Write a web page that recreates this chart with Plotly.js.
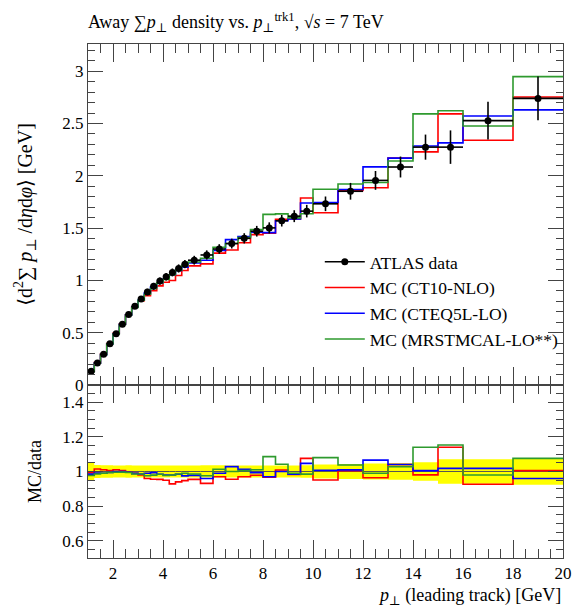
<!DOCTYPE html>
<html><head><meta charset="utf-8">
<script src="https://cdn.plot.ly/plotly-3.0.1.min.js"></script>
<style>html,body{margin:0;padding:0;background:#fff;}</style>
</head><body><div id="plot" style="width:586px;height:612px;"></div>
<script>
// ---- data ----
const binEdges = [1,1.25,1.5,1.75,2,2.25,2.5,2.75,3,3.25,3.5,3.75,4,4.25,4.5,4.75,5,
  5.5,6,6.5,7,7.5,8,8.5,9,9.5,10,11,12,13,14,15,16,18,20];
const dataValues = [0.131,0.211,0.293,0.394,0.490,0.580,0.673,0.753,0.822,0.889,0.943,0.993,1.034,1.076,1.114,1.155,
  1.193,1.243,1.300,1.352,1.402,1.470,1.502,1.570,1.614,1.662,
  1.732,1.852,1.956,2.084,2.274,2.274,2.527,2.740];
const dataErrors = [0.0065,0.008,0.0105,0.014,0.017,0.020,0.024,0.026,0.029,0.031,0.033,0.035,0.036,0.038,0.039,0.040,
  0.042,0.044,0.046,0.047,0.049,0.051,0.053,0.055,0.057,0.060,
  0.070,0.080,0.090,0.100,0.120,0.160,0.180,0.210];
const mcCT10 = [0.130,0.214,0.296,0.396,0.495,0.583,0.671,0.745,0.806,0.853,0.901,0.948,0.982,0.999,1.047,1.094,
  1.139,1.158,1.261,1.291,1.360,1.438,1.452,1.583,1.587,1.788,
  1.647,1.861,1.886,2.169,2.229,2.592,2.340,2.754];
const mcCTEQ5L = [0.129,0.209,0.290,0.392,0.490,0.580,0.670,0.745,0.810,0.880,0.937,0.977,1.013,1.054,1.096,1.126,
  1.166,1.193,1.287,1.390,1.420,1.460,1.457,1.570,1.588,1.740,
  1.744,1.869,2.085,2.169,2.285,2.315,2.572,2.630];
const mcMRST = [0.128,0.208,0.290,0.392,0.488,0.578,0.669,0.742,0.810,0.867,0.923,0.977,1.010,1.054,1.098,1.143,
  1.176,1.212,1.317,1.352,1.409,1.485,1.631,1.636,1.598,1.637,
  1.871,1.922,1.936,2.142,2.592,2.622,2.476,2.948];
const seriesNames = ['ATLAS data','MC (CT10-NLO)','MC (CTEQ5L-LO)','MC (MRSTMCAL-LO**)'];
const seriesColors = ['#000000','#ff0000','#0000ff','#2e9a2e'];

// ---- helpers ----
const nb = dataValues.length;
const centers = [], halfW = [];
for (let i = 0; i < nb; i++) { centers.push((binEdges[i]+binEdges[i+1])/2); halfW.push((binEdges[i+1]-binEdges[i])/2); }
const step = v => v.concat([v[v.length-1]]);
const ratio = v => v.map((y,i) => y/dataValues[i]);
// data points interleaved with gaps so the legend shows line+marker without connecting points
const gx=[], gy=[], gex=[], gey=[];
for (let i = 0; i < nb; i++) {
  gx.push(centers[i], null); gy.push(dataValues[i], null);
  gex.push(halfW[i], null); gey.push(dataErrors[i], null);
}
const FONT = 'Liberation Serif, DejaVu Serif, serif';
const mcSets = [mcCT10, mcCTEQ5L, mcMRST];

const traces = [];
mcSets.forEach((v, k) => traces.push({
  x: binEdges, y: step(v), type:'scatter', mode:'lines', line:{shape:'hv', color:seriesColors[k+1], width:1.6},
  name: seriesNames[k+1], legendrank: k+2, xaxis:'x', yaxis:'y', hoverinfo:'skip'
}));
traces.push({
  x: gx, y: gy, type:'scatter', mode:'lines+markers', connectgaps:false,
  line:{color:'#000', width:1.6}, marker:{color:'#000', size:7},
  error_y:{type:'data', array:gey, visible:true, color:'#000', thickness:1.6, width:0},
  error_x:{type:'data', array:gex, visible:true, color:'#000', thickness:1.6, width:0},
  name: seriesNames[0], legendrank: 1, xaxis:'x', yaxis:'y', hoverinfo:'skip'
});
const relErr = dataErrors.map((e,i) => e/dataValues[i]);
traces.push({x: binEdges, y: step(relErr.map(r => 1-r)), type:'scatter', mode:'lines',
  line:{shape:'hv', width:0, color:'#ffff00'}, showlegend:false, xaxis:'x2', yaxis:'y2', hoverinfo:'skip'});
traces.push({x: binEdges, y: step(relErr.map(r => 1+r)), type:'scatter', mode:'lines', fill:'tonexty',
  fillcolor:'#ffff00', line:{shape:'hv', width:0, color:'#ffff00'}, showlegend:false, xaxis:'x2', yaxis:'y2', hoverinfo:'skip'});
traces.push({x: binEdges, y: step(ratio(dataValues)), type:'scatter', mode:'lines',
  line:{shape:'hv', width:1, color:'#555'}, showlegend:false, xaxis:'x2', yaxis:'y2', hoverinfo:'skip'});
mcSets.forEach((v, k) => traces.push({
  x: binEdges, y: step(ratio(v)), type:'scatter', mode:'lines', line:{shape:'hv', color:seriesColors[k+1], width:1.6},
  showlegend:false, xaxis:'x2', yaxis:'y2', hoverinfo:'skip'
}));

const frame = {showline:true, linecolor:'#444', linewidth:1, mirror:'allticks', ticks:'inside', tickcolor:'#444',
  showgrid:false, zeroline:false, tickfont:{family:FONT, size:17, color:'#000'}};
const split = 0.3366;
const layout = {
  width:586, height:612, margin:{l:88, r:23, t:44, b:54},
  paper_bgcolor:'#fff', plot_bgcolor:'#fff', showlegend:true,
  font:{family:FONT, color:'#000'},
  title:{text:'Away ∑<i>p</i><sub>⊥</sub> density vs. <i>p</i><sub>⊥</sub><sup>trk1</sup>, √<i>s</i> = 7 TeV',
    x:0, xref:'paper', xanchor:'left', y:1-22/612, yref:'container', yanchor:'middle', font:{family:FONT, size:18, color:'#000'}},
  xaxis: Object.assign({}, frame, {domain:[0,1], range:[1,20], anchor:'y', matches:'x2', showticklabels:false,
    tick0:0, dtick:2, ticklen:18, minor:{dtick:0.5, ticklen:9, ticks:'inside', tickcolor:'#444'}}),
  yaxis: Object.assign({}, frame, {domain:[split,1], range:[0,3.26], anchor:'x', tick0:0, dtick:0.5, ticklen:15,
    minor:{dtick:0.1, ticklen:7, ticks:'inside', tickcolor:'#444'},
    title:{text:'⟨d<sup>2</sup>∑ <i>p</i><sub>⊥</sub> /d<i>η</i>d<i>φ</i>⟩ [GeV]', font:{family:FONT, size:20, color:'#000'}, standoff:24}}),
  xaxis2: Object.assign({}, frame, {domain:[0,1], range:[1,20], anchor:'y2',
    tick0:0, dtick:2, ticklen:18, minor:{dtick:0.5, ticklen:9, ticks:'inside', tickcolor:'#444'}}),
  yaxis2: Object.assign({}, frame, {domain:[0,split], range:[0.5,1.5], anchor:'x2', tick0:0, dtick:0.2, ticklen:15,
    minor:{dtick:0.05, ticklen:7, ticks:'inside', tickcolor:'#444'},
    title:{text:'MC/data', font:{family:FONT, size:18, color:'#000'}, standoff:16}}),
  legend:{x:0.488, y:0.611, xanchor:'left', yanchor:'top', bgcolor:'rgba(0,0,0,0)', itemwidth:40,
    font:{family:FONT, size:17.5, color:'#000'}, traceorder:'normal'},
  annotations:[{text:'<i>p</i><sub>⊥</sub> (leading track) [GeV]', xref:'paper', yref:'paper', x:1, xanchor:'right',
    y:-38/514, yanchor:'middle', showarrow:false, font:{family:FONT, size:18, color:'#000'}}]
};
Plotly.newPlot('plot', traces, layout, {staticPlot:true, displayModeBar:false});
</script></body></html>
